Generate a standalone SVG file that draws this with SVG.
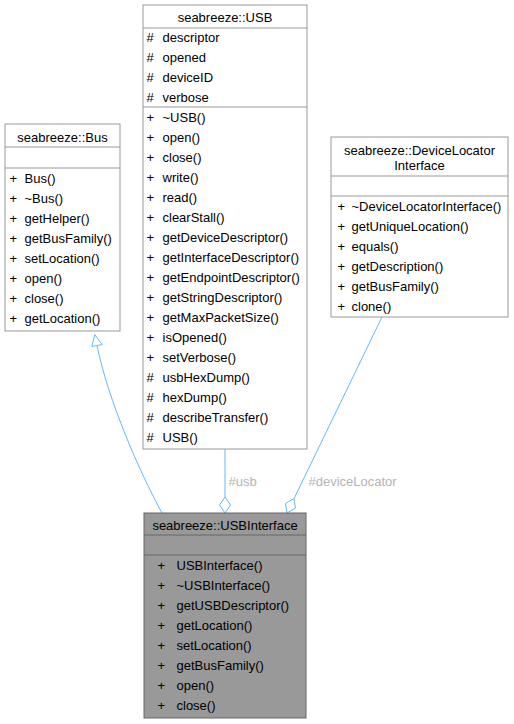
<svg xmlns="http://www.w3.org/2000/svg" width="514" height="724" viewBox="0 0 514 724">
<style>
text{font-family:"Liberation Sans",Arial,sans-serif;font-size:13px;fill:#000}
.t{text-anchor:middle}
.box{fill:#fff;stroke:#999999;stroke-width:1}
.sep{stroke:#999999;stroke-width:1}
.cur{fill:#999999;stroke:#666666;stroke-width:1}
.csep{stroke:#666666;stroke-width:1}
.edge{fill:none;stroke:#63b8ff;stroke-width:1}
.head{fill:#fff;stroke:#63b8ff;stroke-width:1}
.lbl{fill:#b4b4b4}
</style>
<rect width="514" height="724" fill="#fff"/>
<g id="connectors">
<path class="edge" d="M162,513 C140,473 108,400 97,345.5"/>
<polygon class="head" points="94.8,334.7 102.2,344.5 91.8,346.5"/>
<path class="edge" d="M225,449 L225,497"/>
<polygon class="head" points="225,497 230.5,505 225,513 219.5,505"/>
<text class="lbl" x="228.5" y="485.5">#usb</text>
<path class="edge" d="M382,317 L294,498.6"/>
<polygon class="head" points="294,498.6 295.45,508.2 287,513 285.55,503.4"/>
<text class="lbl" x="308.5" y="485.5">#deviceLocator</text>
</g>
<g id="node_Bus">
<rect class="box" x="5" y="124" width="115" height="207"/>
<line class="sep" x1="5" y1="147" x2="120" y2="147"/>
<line class="sep" x1="5" y1="168" x2="120" y2="168"/>
<text class="t" x="62.5" y="141.5">seabreeze::Bus</text>
<text x="9.5" y="182.5">+</text><text x="24.5" y="182.5">Bus()</text>
<text x="9.5" y="202.5">+</text><text x="24.5" y="202.5">~Bus()</text>
<text x="9.5" y="222.5">+</text><text x="24.5" y="222.5">getHelper()</text>
<text x="9.5" y="242.5">+</text><text x="24.5" y="242.5">getBusFamily()</text>
<text x="9.5" y="262.5">+</text><text x="24.5" y="262.5">setLocation()</text>
<text x="9.5" y="282.5">+</text><text x="24.5" y="282.5">open()</text>
<text x="9.5" y="302.5">+</text><text x="24.5" y="302.5">close()</text>
<text x="9.5" y="322.5">+</text><text x="24.5" y="322.5">getLocation()</text>
</g>
<g id="node_USB">
<rect class="box" x="143" y="5" width="164" height="444"/>
<line class="sep" x1="143" y1="28" x2="307" y2="28"/>
<line class="sep" x1="143" y1="107" x2="307" y2="107"/>
<text class="t" x="225" y="21.5">seabreeze::USB</text>
<text x="146.5" y="41.5">#</text><text x="162.5" y="41.5">descriptor</text>
<text x="146.5" y="61.5">#</text><text x="162.5" y="61.5">opened</text>
<text x="146.5" y="81.5">#</text><text x="162.5" y="81.5">deviceID</text>
<text x="146.5" y="101.5">#</text><text x="162.5" y="101.5">verbose</text>
<text x="146.5" y="121.5">+</text><text x="162.5" y="121.5">~USB()</text>
<text x="146.5" y="141.5">+</text><text x="162.5" y="141.5">open()</text>
<text x="146.5" y="161.5">+</text><text x="162.5" y="161.5">close()</text>
<text x="146.5" y="181.5">+</text><text x="162.5" y="181.5">write()</text>
<text x="146.5" y="201.5">+</text><text x="162.5" y="201.5">read()</text>
<text x="146.5" y="221.5">+</text><text x="162.5" y="221.5">clearStall()</text>
<text x="146.5" y="241.5">+</text><text x="162.5" y="241.5">getDeviceDescriptor()</text>
<text x="146.5" y="261.5">+</text><text x="162.5" y="261.5">getInterfaceDescriptor()</text>
<text x="146.5" y="281.5">+</text><text x="162.5" y="281.5">getEndpointDescriptor()</text>
<text x="146.5" y="301.5">+</text><text x="162.5" y="301.5">getStringDescriptor()</text>
<text x="146.5" y="321.5">+</text><text x="162.5" y="321.5">getMaxPacketSize()</text>
<text x="146.5" y="341.5">+</text><text x="162.5" y="341.5">isOpened()</text>
<text x="146.5" y="361.5">+</text><text x="162.5" y="361.5">setVerbose()</text>
<text x="146.5" y="381.5">#</text><text x="162.5" y="381.5">usbHexDump()</text>
<text x="146.5" y="401.5">#</text><text x="162.5" y="401.5">hexDump()</text>
<text x="146.5" y="421.5">#</text><text x="162.5" y="421.5">describeTransfer()</text>
<text x="146.5" y="441.5">#</text><text x="162.5" y="441.5">USB()</text>
</g>
<g id="node_DeviceLocatorInterface">
<rect class="box" x="331" y="137" width="177" height="180"/>
<line class="sep" x1="331" y1="176" x2="508" y2="176"/>
<line class="sep" x1="331" y1="196" x2="508" y2="196"/>
<text class="t" x="419.5" y="155">seabreeze::DeviceLocator</text>
<text class="t" x="419.5" y="169.5">Interface</text>
<text x="337.5" y="210.5">+</text><text x="351.5" y="210.5">~DeviceLocatorInterface()</text>
<text x="337.5" y="230.5">+</text><text x="351.5" y="230.5">getUniqueLocation()</text>
<text x="337.5" y="250.5">+</text><text x="351.5" y="250.5">equals()</text>
<text x="337.5" y="270.5">+</text><text x="351.5" y="270.5">getDescription()</text>
<text x="337.5" y="290.5">+</text><text x="351.5" y="290.5">getBusFamily()</text>
<text x="337.5" y="310.5">+</text><text x="351.5" y="310.5">clone()</text>
</g>
<g id="node_USBInterface">
<rect class="cur" x="144" y="513" width="162" height="205"/>
<line class="csep" x1="144" y1="535" x2="306" y2="535"/>
<line class="csep" x1="144" y1="555" x2="306" y2="555"/>
<text class="t" x="225" y="529.5">seabreeze::USBInterface</text>
<text x="157.5" y="569.5">+</text><text x="176.5" y="569.5">USBInterface()</text>
<text x="157.5" y="589.5">+</text><text x="176.5" y="589.5">~USBInterface()</text>
<text x="157.5" y="609.5">+</text><text x="176.5" y="609.5">getUSBDescriptor()</text>
<text x="157.5" y="629.5">+</text><text x="176.5" y="629.5">getLocation()</text>
<text x="157.5" y="649.5">+</text><text x="176.5" y="649.5">setLocation()</text>
<text x="157.5" y="669.5">+</text><text x="176.5" y="669.5">getBusFamily()</text>
<text x="157.5" y="689.5">+</text><text x="176.5" y="689.5">open()</text>
<text x="157.5" y="709.5">+</text><text x="176.5" y="709.5">close()</text>
</g>
</svg>
